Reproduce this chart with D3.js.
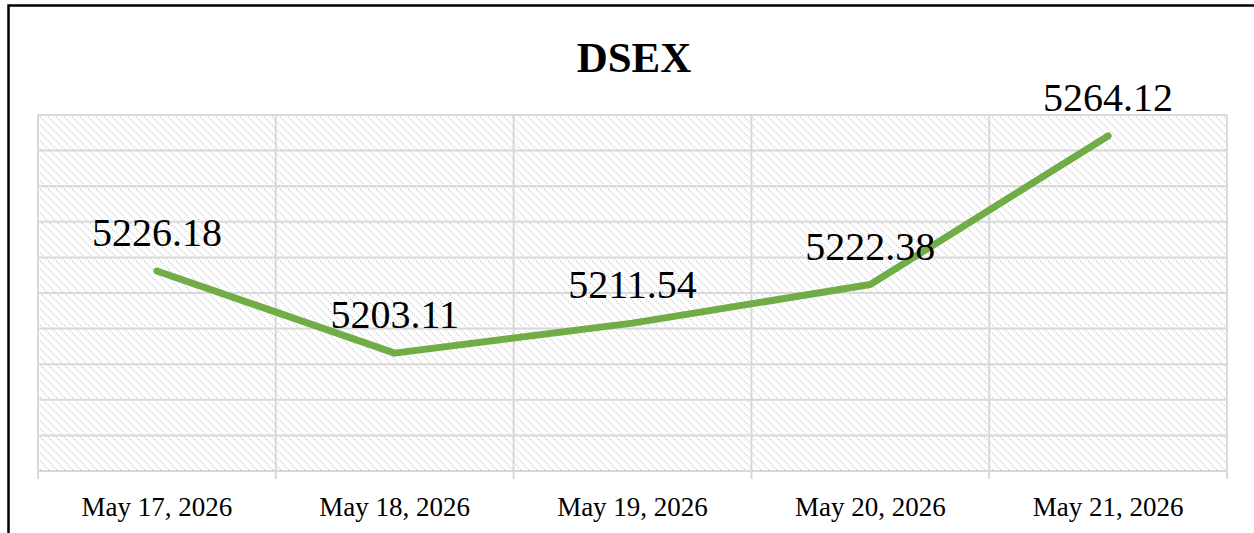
<!DOCTYPE html>
<html>
<head>
<meta charset="utf-8">
<script src="https://cdn.jsdelivr.net/npm/d3@7"></script>
<style>
  html, body { margin: 0; padding: 0; background: #fff; }
  #chart { width: 1254px; height: 533px; }
</style>
</head>
<body>
<div id="chart"></div>
<script>
const categories = ['May 17, 2026', 'May 18, 2026', 'May 19, 2026', 'May 20, 2026', 'May 21, 2026'];
const values = [5226.18, 5203.11, 5211.54, 5222.38, 5264.12];
const yTicks = [5170, 5180, 5190, 5200, 5210, 5220, 5230, 5240, 5250, 5260, 5270];
const title = 'DSEX';

const el = document.getElementById('chart');
const W = 1254, H = 533;
const margin = { top: 115, right: 27, bottom: 62, left: 38 };
const w = W - margin.left - margin.right;
const h = H - margin.top - margin.bottom;

const root = d3.select(el).append('svg')
    .attr('width', W)
    .attr('height', H);

// hatch fill
const defs = root.append('defs');
const pat = defs.append('pattern')
    .attr('id', 'hatch')
    .attr('patternUnits', 'userSpaceOnUse')
    .attr('width', 8)
    .attr('height', 8);
pat.append('path')
    .attr('d', 'M-2,-2 L10,10 M-2,6 L2,10 M6,-2 L10,2')
    .attr('stroke', '#cfcfcf')
    .attr('stroke-width', 1.3)
    .attr('stroke-dasharray', '1.4,1.4');

// outer frame (left and top only visible)
root.append('path')
    .attr('d', `M8.5,${H} L8.5,5.5 L${W},5.5`)
    .attr('fill', 'none')
    .attr('stroke', '#000')
    .attr('stroke-width', 2.5);

root.append('text')
    .attr('x', 634)
    .attr('y', 72)
    .attr('text-anchor', 'middle')
    .style('font-family', '"Liberation Serif", "DejaVu Serif", serif')
    .style('font-weight', 'bold')
    .style('font-size', '43px')
    .text(title);

const svg = root.append('g')
    .attr('transform', `translate(${margin.left}, ${margin.top})`);

const xScale = d3.scaleBand()
    .domain(categories)
    .range([0, w]);

const yScale = d3.scaleLinear()
    .domain([yTicks[0], yTicks[yTicks.length - 1]])
    .range([h, 0]);

svg.append('rect')
    .attr('width', w)
    .attr('height', h)
    .attr('fill', 'url(#hatch)');

// horizontal grid
svg.append('g')
    .selectAll('line')
    .data(yTicks)
    .join('line')
    .attr('x1', 0)
    .attr('x2', w)
    .attr('y1', d => yScale(d))
    .attr('y2', d => yScale(d))
    .attr('stroke', '#d9d9d9')
    .attr('stroke-width', 2);

// vertical grid at category edges
const edges = categories.map(c => xScale(c)).concat([w]);
svg.append('g')
    .selectAll('line')
    .data(edges)
    .join('line')
    .attr('x1', d => d)
    .attr('x2', d => d)
    .attr('y1', 0)
    .attr('y2', h + 8)
    .attr('stroke', '#d9d9d9')
    .attr('stroke-width', 2);

// x axis labels
const xAxis = d3.axisBottom(xScale).tickSize(0).tickPadding(26);
const gx = svg.append('g')
    .attr('transform', `translate(0, ${h})`)
    .call(xAxis);
gx.select('.domain').remove();
gx.selectAll('text')
    .style('font-family', '"Liberation Serif", "DejaVu Serif", serif')
    .style('font-size', '27px')
    .attr('fill', '#000');

// line
const line = d3.line()
    .x((d, i) => xScale(categories[i]) + xScale.bandwidth() / 2)
    .y(d => yScale(d));

svg.append('path')
    .datum(values)
    .attr('d', line)
    .attr('fill', 'none')
    .attr('stroke', '#70ad47')
    .attr('stroke-width', 7)
    .attr('stroke-linecap', 'round')
    .attr('stroke-linejoin', 'round');

// data labels
svg.append('g')
    .selectAll('text')
    .data(values)
    .join('text')
    .attr('x', (d, i) => xScale(categories[i]) + xScale.bandwidth() / 2)
    .attr('y', d => yScale(d) - 25)
    .attr('text-anchor', 'middle')
    .style('font-family', '"Liberation Serif", "DejaVu Serif", serif')
    .style('font-size', '40px')
    .attr('fill', '#000')
    .text(d => d.toFixed(2));
</script>
</body>
</html>
